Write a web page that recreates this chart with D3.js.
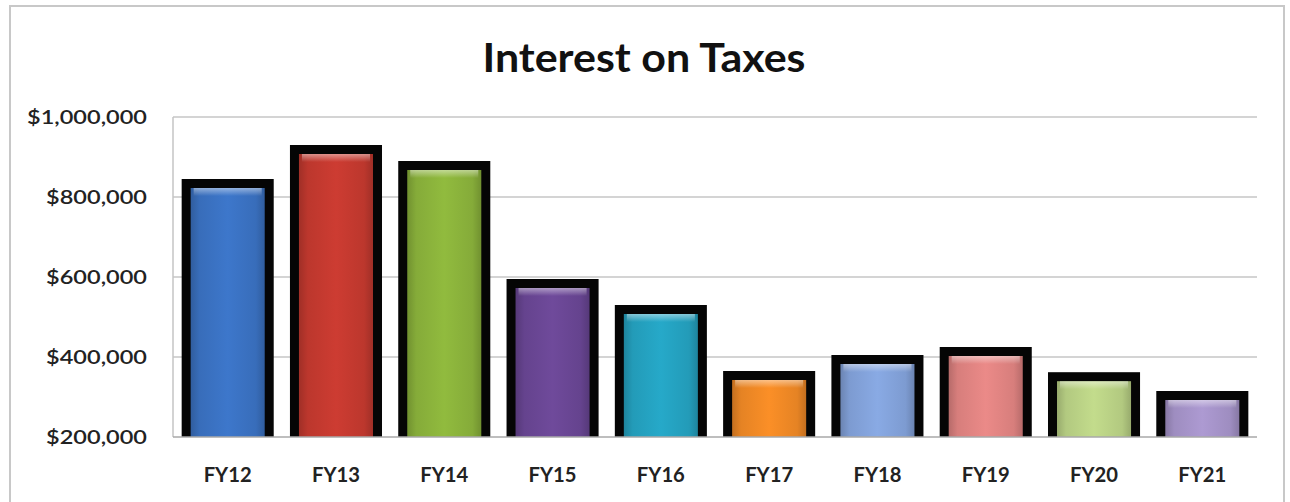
<!DOCTYPE html>
<html>
  <head>
    <style>
      body {
        margin: 0;
        background: #fff;
      }
      svg {
        display: block;
      }
      text {
        font-family: Lato, "Open Sans", sans-serif;
        fill: #222;
      }
      .grid line {
        stroke: #d4d4d4;
        stroke-width: 2px;
      }
    </style>
  </head>
  <body>
    <script src="https://d3js.org/d3.v7.min.js"></script>
    <script>
      const title = "Interest on Taxes";
      const categories = ["FY12", "FY13", "FY14", "FY15", "FY16", "FY17", "FY18", "FY19", "FY20", "FY21"];
      const values = [845000, 930000, 890000, 595000, 530000, 365000, 405000, 425000, 362000, 315000];
      const barColors = ["#3b73c4", "#c63a30", "#8cb43c", "#6b4796", "#25a3c2", "#f28a26", "#84a4dc", "#e38583", "#bcd487", "#a795cb"];
      const yTicks = [200000, 400000, 600000, 800000, 1000000];

      const width = 1290, height = 502;
      const plot = {left: 173, right: 1257, top: 117, bottom: 437};
      const border = 9;

      const svg = d3.select("body").append("svg")
          .attr("width", width)
          .attr("height", height);

      const defs = svg.append("defs");

      // outer chart frame
      svg.append("rect")
          .attr("x", 10)
          .attr("y", 6)
          .attr("width", 1274)
          .attr("height", 510)
          .attr("fill", "none")
          .attr("stroke", "#c8c8c8")
          .attr("stroke-width", 2);

      const x = d3.scaleBand()
          .domain(categories)
          .range([plot.left, plot.right])
          .paddingInner(0.15)
          .paddingOuter(0.08);

      const y = d3.scaleLinear()
          .domain([200000, 1000000])
          .range([plot.bottom, plot.top]);

      // gridlines
      svg.append("g")
          .attr("class", "grid")
        .selectAll("line")
        .data(yTicks.filter(d => d > 200000))
        .join("line")
          .attr("x1", plot.left)
          .attr("x2", plot.right)
          .attr("y1", d => y(d))
          .attr("y2", d => y(d));

      // left axis line
      svg.append("line")
          .attr("x1", plot.left)
          .attr("x2", plot.left)
          .attr("y1", plot.top)
          .attr("y2", plot.bottom)
          .attr("stroke", "#c4c4c4")
          .attr("stroke-width", 1.5);

      // per-bar gradients
      barColors.forEach((c, i) => {
        const base = d3.color(c);
        const grad = defs.append("linearGradient")
            .attr("id", "g" + i)
            .attr("x1", 0).attr("x2", 1).attr("y1", 0).attr("y2", 0);
        grad.append("stop").attr("offset", "0%").attr("stop-color", base.darker(0.6));
        grad.append("stop").attr("offset", "12%").attr("stop-color", base.darker(0.15));
        grad.append("stop").attr("offset", "50%").attr("stop-color", base.brighter(0.1));
        grad.append("stop").attr("offset", "88%").attr("stop-color", base.darker(0.15));
        grad.append("stop").attr("offset", "100%").attr("stop-color", base.darker(0.6));
      });

      const hl = defs.append("linearGradient")
          .attr("id", "hl")
          .attr("x1", 0).attr("x2", 0).attr("y1", 0).attr("y2", 1);
      hl.append("stop").attr("offset", "0%").attr("stop-color", "#fff").attr("stop-opacity", 0.45);
      hl.append("stop").attr("offset", "100%").attr("stop-color", "#fff").attr("stop-opacity", 0);

      const bars = svg.append("g")
        .selectAll("g")
        .data(categories.map((c, i) => ({c, v: values[i], i})))
        .join("g");

      bars.append("rect")
          .attr("x", d => x(d.c))
          .attr("y", d => y(d.v))
          .attr("width", x.bandwidth())
          .attr("height", d => y(200000) - y(d.v))
          .attr("fill", "#050505");

      bars.append("rect")
          .attr("x", d => x(d.c) + border)
          .attr("y", d => y(d.v) + border)
          .attr("width", x.bandwidth() - 2 * border)
          .attr("height", d => y(200000) - y(d.v) - border)
          .attr("fill", d => `url(#g${d.i})`);

      bars.append("rect")
          .attr("x", d => x(d.c) + border + 3)
          .attr("y", d => y(d.v) + border)
          .attr("width", x.bandwidth() - 2 * border - 6)
          .attr("height", 8)
          .attr("fill", "url(#hl)");

      // baseline
      svg.append("line")
          .attr("x1", plot.left)
          .attr("x2", plot.right)
          .attr("y1", y(200000))
          .attr("y2", y(200000))
          .attr("stroke", "#a8a8a8")
          .attr("stroke-width", 1.5);

      const fmt = d => "$" + d3.format(",")(d);

      // y labels
      const yl = svg.append("g")
        .selectAll("text")
        .data(yTicks)
        .join("text")
          .attr("x", 147)
          .attr("y", d => y(d))
          .attr("dy", "0.36em")
          .attr("text-anchor", "end")
          .style("font-size", "20px")
          .style("font-weight", 600)
          .text(fmt);

      const yNodes = yl.nodes();
      const yStretch = 120 / yNodes[yNodes.length - 1].getComputedTextLength();
      yl.each(function() {
        const n = this.getComputedTextLength();
        d3.select(this).attr("textLength", n * yStretch).attr("lengthAdjust", "spacingAndGlyphs");
      });

      // x labels
      const xl = svg.append("g")
        .selectAll("text")
        .data(categories)
        .join("text")
          .attr("x", d => x(d) + x.bandwidth() / 2)
          .attr("y", 482)
          .attr("text-anchor", "middle")
          .style("font-size", "21px")
          .style("font-weight", 700)
          .text(d => d);

      const xStretch = 48 / xl.node().getComputedTextLength();
      xl.each(function() {
        const n = this.getComputedTextLength();
        d3.select(this).attr("textLength", n * xStretch).attr("lengthAdjust", "spacingAndGlyphs");
      });

      // title
      const t = svg.append("text")
          .attr("x", 644)
          .attr("y", 72)
          .attr("text-anchor", "middle")
          .style("font-size", "41px")
          .style("font-weight", 700)
          .style("fill", "#111")
          .text(title);
      t.attr("textLength", 323).attr("lengthAdjust", "spacingAndGlyphs");
    </script>
  </body>
</html>
